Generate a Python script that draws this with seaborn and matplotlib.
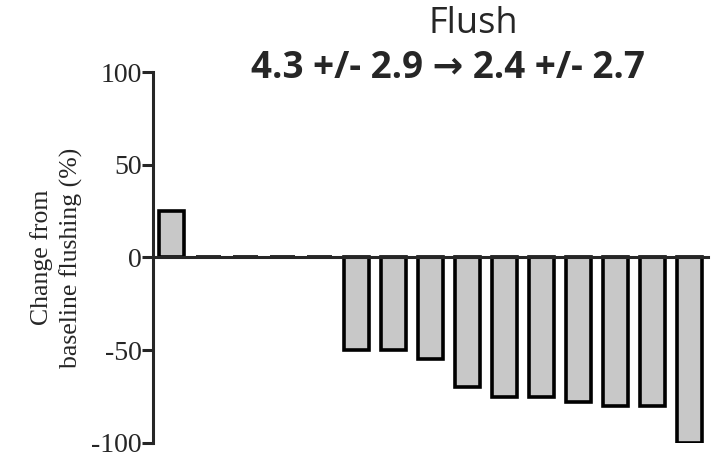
import numpy as np
import pandas as pd
import seaborn as sns
import matplotlib.pyplot as plt

sns.set_style("white")
plt.rcParams["axes.unicode_minus"] = False

# one bar per patient, sorted
patients = [str(i) for i in range(1, 16)]
change = [25, 0, 0, 0, 0, -50, -50, -55, -70, -75, -75, -78, -80, -80, -100]

df = pd.DataFrame({"patient": patients, "change": change})

fig = plt.figure(figsize=(7.18, 4.59), dpi=100)
ax = fig.add_axes([0.213, 0.035, 0.773, 0.808])

sns.barplot(data=df, x="patient", y="change", color="#c8c8c8", edgecolor="black",
            linewidth=2.6, width=0.68, saturation=1, ax=ax)

ax.set_xlim(-0.5, 14.5)
ax.set_ylim(-100, 100)
ax.set_yticks([-100, -50, 0, 50, 100])
ax.set_xticks([])
ax.set_xlabel("")
ax.set_ylabel("Change from\nbaseline flushing (%)", family="Liberation Serif",
              fontsize=18.5, linespacing=1.35, labelpad=6)

for lab in ax.get_yticklabels():
    lab.set_family("Liberation Serif")
    lab.set_fontsize(20)
ax.tick_params(axis="y", direction="out", length=8, width=2.2, pad=0, left=True)

sns.despine(ax=ax)
ax.spines["left"].set_linewidth(2.2)
ax.spines["bottom"].set_linewidth(2.2)
ax.spines["bottom"].set_position(("data", 0))

fig.text(0.659, 0.948, "Flush", ha="center", va="center", family="Open Sans", fontsize=26)
fig.text(0.624, 0.852, "4.3 +/- 2.9 \u2192 2.4 +/- 2.7", ha="center", va="center",
         family=["Open Sans", "DejaVu Sans"], fontweight="bold", fontsize=26.5)

fig.savefig("out.png", dpi=100)
